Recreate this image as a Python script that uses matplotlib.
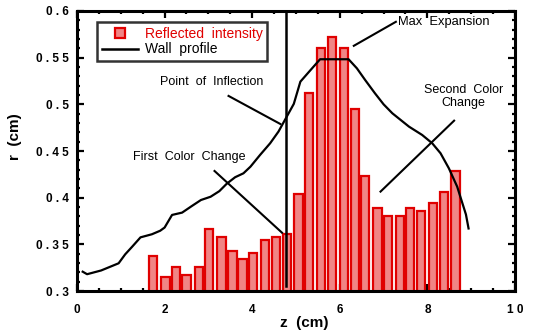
import numpy as np
import matplotlib
matplotlib.use('Agg')
from matplotlib import pyplot as plt
from matplotlib.lines import Line2D
from matplotlib.ticker import MultipleLocator

plt.rcParams['font.family'] = ['Liberation Sans', 'DejaVu Sans']

# reflected intensity bars (bar position z, top value r)
bar_z = [1.74, 2.02, 2.26, 2.50, 2.78, 3.02, 3.30, 3.55, 3.78, 4.02, 4.30, 4.54, 4.79,
         5.06, 5.30, 5.57, 5.82, 6.09, 6.34, 6.58, 6.86, 7.10, 7.37, 7.61, 7.86,
         8.13, 8.38, 8.64]
bar_r = [0.3375, 0.315, 0.326, 0.3175, 0.326, 0.3665, 0.3575, 0.343, 0.3346, 0.3407,
         0.3547, 0.3575, 0.3608, 0.4036, 0.512, 0.560, 0.572, 0.560, 0.4947, 0.4233,
         0.3886, 0.380, 0.380, 0.3886, 0.386, 0.3946, 0.4058, 0.4286]

# wall profile
wall_z = [0.13, 0.23, 0.55, 0.95, 1.10, 1.26, 1.45, 1.71, 1.90, 2.00, 2.17, 2.40, 2.62,
          2.83, 3.05, 3.25, 3.42, 3.61, 3.80, 3.96, 4.18, 4.41, 4.60, 4.79, 4.95,
          5.10, 5.30, 5.55, 6.20, 6.39, 6.58, 6.80, 7.00, 7.20, 7.58, 7.88, 8.11,
          8.30, 8.49, 8.68, 8.88, 8.94]
wall_r = [0.3207, 0.318, 0.322, 0.3297, 0.3393, 0.3475, 0.3575, 0.3608, 0.3646, 0.368,
          0.3815, 0.384, 0.391, 0.3975, 0.401, 0.407, 0.415, 0.4219, 0.4261, 0.4332,
          0.4458, 0.4583, 0.4708, 0.4869, 0.5005, 0.5243, 0.535, 0.5483, 0.5483,
          0.5386, 0.526, 0.512, 0.500, 0.4904, 0.4761, 0.4672, 0.4583, 0.4476,
          0.4315, 0.4118, 0.382, 0.367]

inflection_z = 4.78

xticks = [0, 2, 4, 6, 8, 10]
xtick_labels = ['0', '2', '4', '6', '8', '1 0']
yticks = [0.3, 0.35, 0.4, 0.45, 0.5, 0.55, 0.6]
ytick_labels = ['0 . 3', '0 . 3 5', '0 . 4', '0 . 4 5', '0 . 5', '0 . 5 5', '0 . 6']

fig = plt.figure(figsize=(5.34, 3.35), dpi=100)
ax = fig.add_axes([0.1442, 0.1313, 0.8202, 0.8359])

ax.bar(bar_z, bar_r, width=0.19, color='#f08585', edgecolor='#e00000', linewidth=1.6, zorder=2)
ax.plot(wall_z, wall_r, color='black', lw=1.6, zorder=3)
ax.plot([inflection_z, inflection_z], [0.305, 0.6], color='black', lw=1.8, zorder=3)

# annotation pointers
ax.plot([7.28, 6.32], [0.5884, 0.5627], color='black', lw=1.5)
ax.plot([3.46, 4.64], [0.509, 0.479], color='black', lw=1.5)
ax.plot([3.14, 4.68], [0.4286, 0.3625], color='black', lw=1.5)
ax.plot([8.61, 6.93], [0.4825, 0.4065], color='black', lw=1.5)

tfs = 9
ax.text(7.34, 0.5884, 'Max  Expansion', fontsize=9.3, ha='left', va='center')
ax.text(3.08, 0.5235, 'Point  of  Inflection', fontsize=tfs, ha='center', va='center')
ax.text(2.56, 0.444, 'First  Color  Change', fontsize=tfs, ha='center', va='center')
ax.text(8.82, 0.5083, 'Second  Color\nChange', fontsize=tfs, ha='center', va='center',
        multialignment='center', linespacing=1.05)

ax.set_xlim(0, 10)
ax.set_ylim(0.3, 0.6)
ax.set_xticks(xticks)
ax.set_xticklabels(xtick_labels, fontweight='bold', fontsize=8.5)
ax.set_yticks(yticks)
ax.set_yticklabels(ytick_labels, fontweight='bold', fontsize=8.5)
ax.xaxis.set_minor_locator(MultipleLocator(0.5))
ax.yaxis.set_minor_locator(MultipleLocator(0.01))
ax.tick_params(which='both', direction='in', top=True, right=True, width=1.6)
ax.tick_params(which='major', length=5, pad=6)
ax.tick_params(axis='x', which='major', pad=9)
ax.tick_params(which='minor', length=2.5)
for s in ax.spines.values():
    s.set_linewidth(2.2)

ax.set_xlabel('z  (cm)', fontweight='bold', fontsize=11)
ax.set_ylabel('r  (cm)', fontweight='bold', fontsize=11)
ax.xaxis.set_label_coords(0.518, -0.09)
ax.yaxis.set_label_coords(-0.125, 0.55)

handles = [Line2D([], [], marker='s', ls='none', markersize=7, markerfacecolor='#f08585',
                  markeredgecolor='#e00000', markeredgewidth=1.6),
           Line2D([], [], color='black', lw=1.8)]
leg = ax.legend(handles, ['Reflected  intensity', 'Wall  profile'], loc='upper left',
                bbox_to_anchor=(0.045, 0.96), fontsize=10, frameon=True, fancybox=False,
                handlelength=2.6, handletextpad=0.5, borderpad=0.35, labelspacing=0.1,
                borderaxespad=0)
leg.get_frame().set_edgecolor('black')
leg.get_frame().set_linewidth(1.8)
leg.get_texts()[0].set_color('#e00000')

plt.savefig('out.png', dpi=100)
